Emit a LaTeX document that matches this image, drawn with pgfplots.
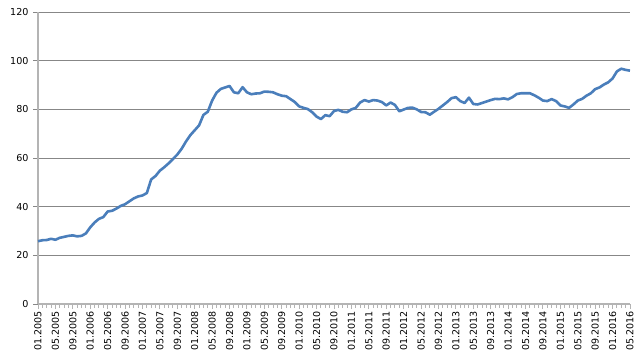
\documentclass[border=0pt]{standalone}
\usepackage{fontspec}
\setmainfont{DejaVu Sans}
\usepackage{pgfplots}
\pgfplotsset{compat=1.18}
\definecolor{serie}{HTML}{4A7EBB}
\definecolor{gridc}{HTML}{878787}
\definecolor{axisc}{HTML}{B4B4B4}
\begin{document}
\begin{tikzpicture}
\path[use as bounding box] (-38bp,-58bp) rectangle (602bp,304bp);
\begin{axis}[
  at={(0bp,0bp)}, anchor=south west,
  scale only axis, width=592bp, height=292bp,
  xmin=0, xmax=136, ymin=0, ymax=120,
  ytick={0,20,...,120},
  xtick={0,4,...,136},
  minor xtick={0,1,...,136},
  xticklabels={01.2005,05.2005,09.2005,01.2006,05.2006,09.2006,01.2007,05.2007,09.2007,01.2008,05.2008,09.2008,01.2009,05.2009,09.2009,01.2010,05.2010,09.2010,01.2011,05.2011,09.2011,01.2012,05.2012,09.2012,01.2013,05.2013,09.2013,01.2014,05.2014,09.2014,01.2015,05.2015,09.2015,01.2016,05.2016},
  axis lines*=left,
  axis line style={-, axisc, line width=1.2bp},
  tick align=outside,
  major tick length=5bp, minor tick length=4bp,
  xtick style={axisc, line width=0.9bp},
  ytick style={gridc, line width=0.9bp},
  ymajorgrids,
  grid style={gridc, line width=0.9bp},
  /pgf/number format/assume math mode=true,
  tick label style={font=\fontsize{9.6}{11}\selectfont, black},
  xticklabel style={rotate=90, anchor=east, inner sep=2bp},
  yticklabel style={xshift=-1bp},
  clip=false,
]
\addplot[serie, line width=2.6bp, line join=round] table {
x y
0 25.8
1 26.2
2 26.3
3 26.8
4 26.4
5 27.2
6 27.6
7 28.0
8 28.2
9 27.8
10 28.0
11 29.0
12 31.5
13 33.5
14 35.0
15 35.7
16 38.0
17 38.3
18 39.2
19 40.3
20 41.0
21 42.2
22 43.4
23 44.2
24 44.6
25 45.6
26 51.2
27 52.6
28 54.8
29 56.2
30 57.8
31 59.6
32 61.4
33 63.8
34 66.8
35 69.4
36 71.4
37 73.4
38 77.7
39 79.0
40 83.6
41 86.8
42 88.4
43 89.0
44 89.6
45 87.0
46 86.6
47 89.1
48 87.0
49 86.2
50 86.5
51 86.6
52 87.3
53 87.2
54 87.0
55 86.2
56 85.6
57 85.4
58 84.2
59 83.0
60 81.2
61 80.6
62 80.1
63 78.8
64 77.0
65 76.0
66 77.6
67 77.2
68 79.3
69 79.8
70 79.0
71 78.8
72 80.0
73 80.6
74 82.8
75 83.8
76 83.2
77 83.8
78 83.6
79 83.0
80 81.6
81 82.8
82 81.8
83 79.2
84 79.9
85 80.6
86 80.7
87 80.0
88 78.9
89 78.8
90 77.8
91 79.0
92 80.2
93 81.6
94 83.0
95 84.6
96 85.0
97 83.4
98 82.6
99 84.8
100 82.2
101 82.0
102 82.6
103 83.2
104 83.8
105 84.3
106 84.2
107 84.5
108 84.1
109 85.0
110 86.3
111 86.6
112 86.6
113 86.6
114 85.8
115 84.8
116 83.6
117 83.4
118 84.2
119 83.4
120 81.6
121 81.2
122 80.6
123 82.0
124 83.6
125 84.3
126 85.6
127 86.6
128 88.3
129 89.0
130 90.2
131 91.1
132 92.7
133 95.6
134 96.7
135 96.2
136 95.9
};
\end{axis}
\end{tikzpicture}
\end{document}
